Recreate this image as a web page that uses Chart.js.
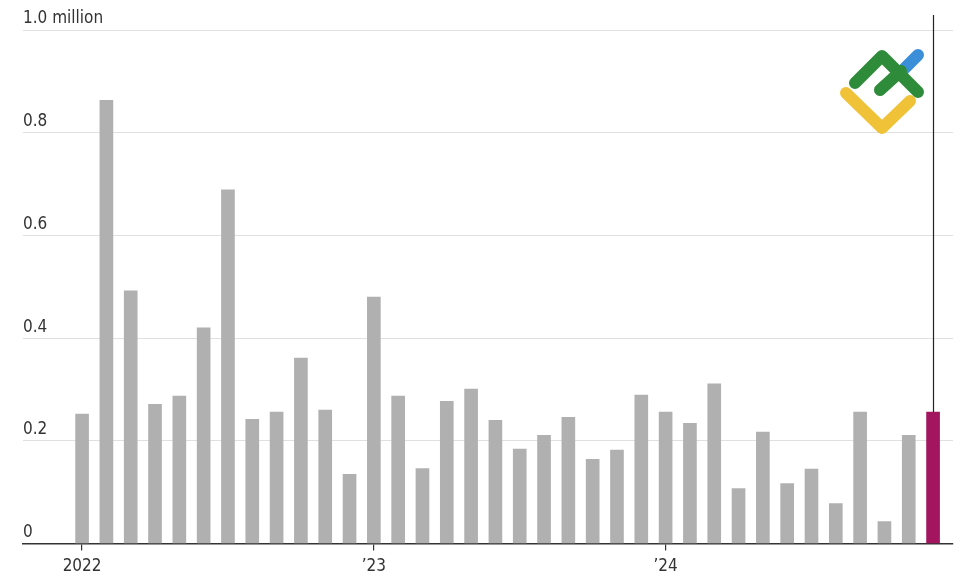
<!DOCTYPE html>
<html>
<head>
<meta charset="utf-8">
<script src="https://cdn.jsdelivr.net/npm/chart.js@4.4.1/dist/chart.umd.min.js"></script>
<style>
  html, body { margin: 0; padding: 0; background: #fff; }
  #wrap { width: 979px; height: 577px; }
</style>
</head>
<body>
<div id="wrap"><canvas id="grafico"></canvas></div>
<script>
// monthly values, Jan 2022 .. Dec 2024 (millions)
const meses = [
  '2022-01','2022-02','2022-03','2022-04','2022-05','2022-06','2022-07','2022-08','2022-09','2022-10','2022-11','2022-12',
  '2023-01','2023-02','2023-03','2023-04','2023-05','2023-06','2023-07','2023-08','2023-09','2023-10','2023-11','2023-12',
  '2024-01','2024-02','2024-03','2024-04','2024-05','2024-06','2024-07','2024-08','2024-09','2024-10','2024-11','2024-12'
];
const valores = [
  0.252, 0.863, 0.492, 0.271, 0.287, 0.420, 0.689, 0.242, 0.256, 0.361, 0.260, 0.135,
  0.480, 0.287, 0.146, 0.277, 0.301, 0.240, 0.184, 0.211, 0.246, 0.164, 0.182, 0.289,
  0.256, 0.234, 0.311, 0.107, 0.217, 0.117, 0.145, 0.078, 0.256, 0.043, 0.211, 0.256
];
const yTicks = [0, 0.2, 0.4, 0.6, 0.8, 1.0];
const yTickLabels = ['0', '0.2', '0.4', '0.6', '0.8', '1.0 million'];
const xTicks = [0, 12, 24];
const xTickLabels = ['2022', '\u201923', '\u201924'];

const cinza = '#b0b0b0';
const destaque = '#a3155f';
const fonte = "'Liberation Sans Narrow', 'DejaVu Sans Condensed', sans-serif";

const cores = valores.map((v, i) => i === valores.length - 1 ? destaque : cinza);
const pontos = valores.map((v, i) => ({ x: i, y: v }));

const linhaDestaque = {
  id: 'linhaDestaque',
  afterDatasetsDraw(chart) {
    const ctx = chart.ctx;
    const i = valores.length - 1;
    const x = Math.round(chart.scales.x.getPixelForValue(i)) + 0.5;
    const y = chart.scales.y.getPixelForValue(valores[i]);
    ctx.save();
    ctx.strokeStyle = '#222';
    ctx.lineWidth = 1.2;
    ctx.beginPath();
    ctx.moveTo(x, 15);
    ctx.lineTo(x, y);
    ctx.stroke();
    ctx.restore();
  }
};

// logo no canto superior direito
const logo = {
  id: 'logo',
  afterDraw(chart) {
    const ctx = chart.ctx;
    ctx.save();
    ctx.lineCap = 'round';
    ctx.lineJoin = 'round';
    ctx.lineWidth = 12;
    function traco(cor, pts) {
      ctx.strokeStyle = cor;
      ctx.beginPath();
      ctx.moveTo(pts[0][0], pts[0][1]);
      for (let k = 1; k < pts.length; k++) ctx.lineTo(pts[k][0], pts[k][1]);
      ctx.stroke();
    }
    traco('#f0c238', [[846, 93], [882, 128], [910, 101]]);
    traco('#3b8ed8', [[904, 69], [918, 55]]);
    traco('#2e8b3a', [[855, 83], [882, 56], [918, 92]]);
    traco('#2e8b3a', [[880, 90], [901, 71]]);
    ctx.restore();
  }
};

new Chart(document.getElementById('grafico'), {
  type: 'bar',
  data: {
    labels: meses,
    datasets: [{
      data: pontos,
      backgroundColor: cores,
      barThickness: 13,
      borderWidth: 0
    }]
  },
  options: {
    responsive: true,
    maintainAspectRatio: false,
    animation: false,
    layout: { padding: { left: 23, right: 26, top: 30, bottom: -6 } },
    plugins: { legend: { display: false }, tooltip: { enabled: false } },
    scales: {
      x: {
        type: 'linear',
        offset: false,
        min: -2.43,
        max: 35.82,
        afterBuildTicks: axis => { axis.ticks = xTicks.map(v => ({ value: v })); },
        grid: { offset: false, display: true, drawOnChartArea: false, drawTicks: true, tickLength: 7, color: '#333', lineWidth: 1.2 },
        border: { display: true, color: '#333', width: 1.4 },
        ticks: {
          color: '#333',
          font: { family: fonte, size: 17 },
          padding: 6,
          maxRotation: 0,
          autoSkip: false,
          callback: v => xTickLabels[xTicks.indexOf(v)]
        }
      },
      y: {
        min: 0,
        max: 1.0,
        afterBuildTicks: axis => { axis.ticks = yTicks.map(v => ({ value: v })); },
        grid: { drawTicks: false, color: ctx => ctx.tick && ctx.tick.value === 0 ? '#333' : '#e0e0e0', lineWidth: 1 },
        border: { display: false },
        ticks: {
          mirror: true,
          padding: 0,
          labelOffset: -11,
          color: '#333',
          font: { family: fonte, size: 17 },
          callback: (v, i) => yTickLabels[yTicks.indexOf(v)]
        }
      }
    }
  },
  plugins: [linhaDestaque, logo]
});
</script>
</body>
</html>
